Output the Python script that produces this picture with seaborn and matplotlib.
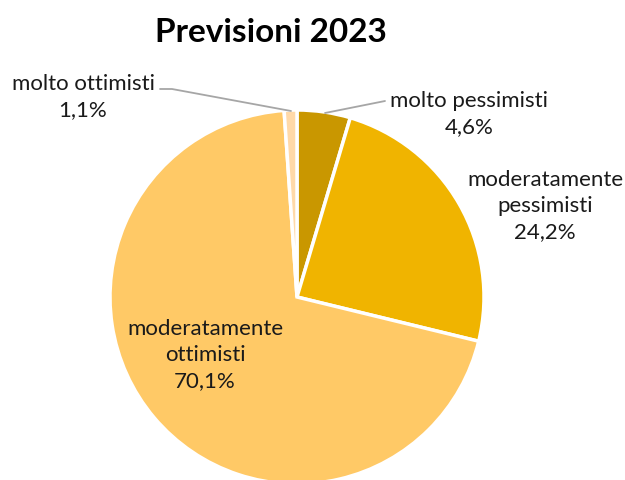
import matplotlib
matplotlib.use("Agg")
import matplotlib.pyplot as plt
import seaborn as sns

# Dati
categorie = ["molto pessimisti", "moderatamente\npessimisti", "moderatamente\nottimisti", "molto ottimisti"]
valori = [4.6, 24.2, 70.1, 1.1]
colori = ["#C99700", "#F0B400", "#FFC966", "#FFD9A8"]

sns.set_style("white")
plt.rcParams['font.family'] = ['Lato', 'DejaVu Sans']

fig = plt.figure(figsize=(6.25, 4.8), dpi=100)
ax = fig.add_axes([0, 0, 1, 1])

ax.pie(valori, colors=colori, startangle=90, counterclock=False,
       center=(297, 183), radius=187,
       wedgeprops=dict(edgecolor="white", linewidth=2.5))

ax.set_xlim(0, 625)
ax.set_ylim(0, 480)
ax.set_aspect("equal")
ax.axis("off")

fs = 16
etichette = [f"{c}\n{str(v).replace('.', ',')}%" for c, v in zip(categorie, valori)]
# posizioni delle etichette (pixel, origine in alto a sinistra)
pos = [(469, 114), (545, 206), (205, 355), (83, 97)]
for t, (x, y) in zip(etichette, pos):
    ax.text(x, 480 - y, t, ha="center", va="center", fontsize=fs,
            color="#1A1A1A", linespacing=1.4)

# linee guida
ax.plot([325, 385], [480 - 113, 480 - 101], color="#A6A6A6", lw=1.3)
ax.plot([160, 172, 291], [480 - 89, 480 - 89, 480 - 111], color="#A6A6A6", lw=1.3)

fig.text(271 / 625, 1 - 33 / 480, "Previsioni 2023", ha="center", va="center",
         fontsize=24, fontweight="bold", color="black")

fig.savefig("out.png", dpi=100)
